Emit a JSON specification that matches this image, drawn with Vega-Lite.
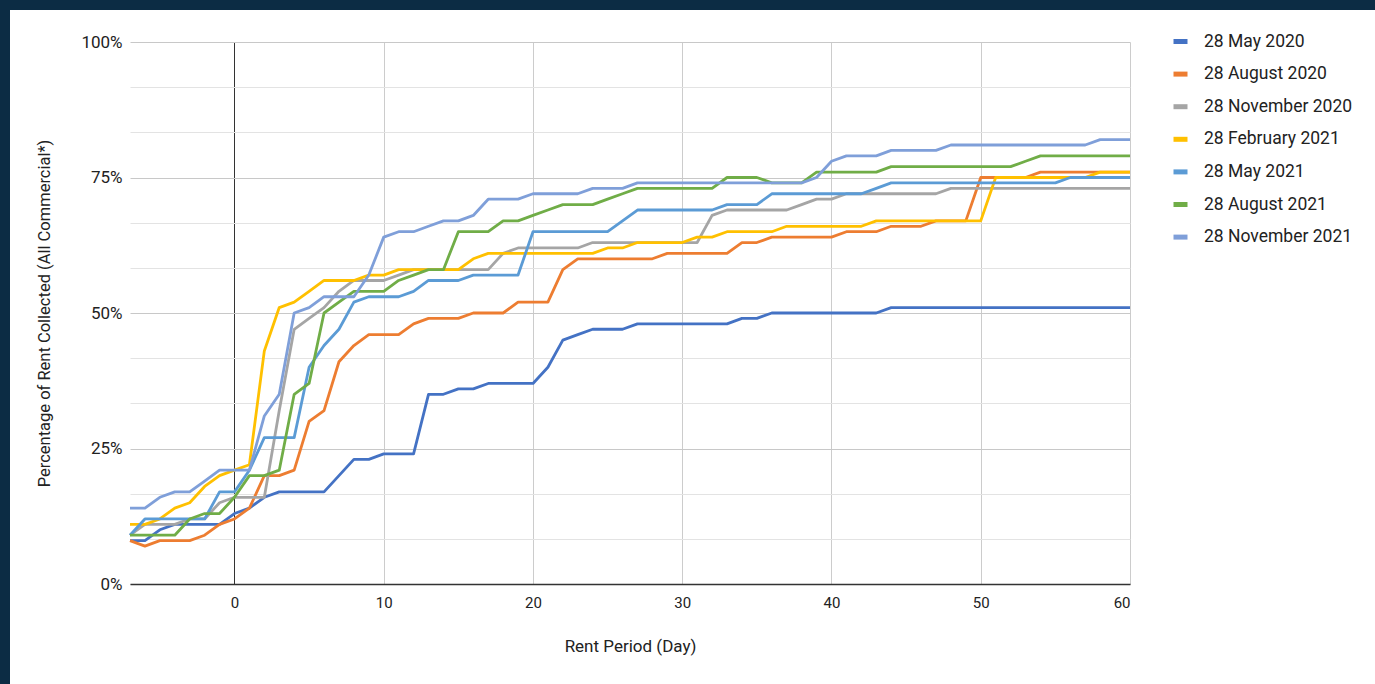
{
  "$schema": "https://vega.github.io/schema/vega-lite/v6.json",
  "background": "white",
  "padding": 0,
  "spacing": 0,
  "config": {"font": "Roboto", "view": {"stroke": null}},
  "hconcat": [
    {
      "width": 10,
      "height": 684,
      "data": {"values": []},
      "mark": "point",
      "view": {"fill": "#0c2c44", "stroke": null}
    },
    {
      "spacing": 23,
      "vconcat": [
        {
          "width": 1245,
          "height": 10,
          "data": {"values": []},
          "mark": "point",
          "view": {"fill": "#0c2c44", "stroke": null},
          "encoding": {
            "y": {
              "datum": 0,
              "type": "quantitative",
              "axis": {"orient": "left", "translate": 0, "domain": true, "domainColor": "#0c2c44", "domainWidth": 242, "domainCap": "butt", "labels": false, "ticks": false, "grid": false, "title": null}
            }
          }
        },
        {
          "width": 1000,
          "height": 542,
          "title": {"text": " ", "orient": "left", "fontSize": 10, "offset": 16.5},
          "data": {
            "values": [
              {"day": -7, "28 May 2020": 8, "28 August 2020": 8, "28 November 2020": 9, "28 February 2021": 11, "28 May 2021": 9, "28 August 2021": 9, "28 November 2021": 14},
              {"day": -6, "28 May 2020": 8, "28 August 2020": 7, "28 November 2020": 11, "28 February 2021": 11, "28 May 2021": 12, "28 August 2021": 9, "28 November 2021": 14},
              {"day": -5, "28 May 2020": 10, "28 August 2020": 8, "28 November 2020": 11, "28 February 2021": 12, "28 May 2021": 12, "28 August 2021": 9, "28 November 2021": 16},
              {"day": -4, "28 May 2020": 11, "28 August 2020": 8, "28 November 2020": 11, "28 February 2021": 14, "28 May 2021": 12, "28 August 2021": 9, "28 November 2021": 17},
              {"day": -3, "28 May 2020": 11, "28 August 2020": 8, "28 November 2020": 12, "28 February 2021": 15, "28 May 2021": 12, "28 August 2021": 12, "28 November 2021": 17},
              {"day": -2, "28 May 2020": 11, "28 August 2020": 9, "28 November 2020": 12, "28 February 2021": 18, "28 May 2021": 12, "28 August 2021": 13, "28 November 2021": 19},
              {"day": -1, "28 May 2020": 11, "28 August 2020": 11, "28 November 2020": 15, "28 February 2021": 20, "28 May 2021": 17, "28 August 2021": 13, "28 November 2021": 21},
              {"day": 0, "28 May 2020": 13, "28 August 2020": 12, "28 November 2020": 16, "28 February 2021": 21, "28 May 2021": 17, "28 August 2021": 16, "28 November 2021": 21},
              {"day": 1, "28 May 2020": 14, "28 August 2020": 14, "28 November 2020": 16, "28 February 2021": 22, "28 May 2021": 21, "28 August 2021": 20, "28 November 2021": 21},
              {"day": 2, "28 May 2020": 16, "28 August 2020": 20, "28 November 2020": 16, "28 February 2021": 43, "28 May 2021": 27, "28 August 2021": 20, "28 November 2021": 31},
              {"day": 3, "28 May 2020": 17, "28 August 2020": 20, "28 November 2020": 32, "28 February 2021": 51, "28 May 2021": 27, "28 August 2021": 21, "28 November 2021": 35},
              {"day": 4, "28 May 2020": 17, "28 August 2020": 21, "28 November 2020": 47, "28 February 2021": 52, "28 May 2021": 27, "28 August 2021": 35, "28 November 2021": 50},
              {"day": 5, "28 May 2020": 17, "28 August 2020": 30, "28 November 2020": 49, "28 February 2021": 54, "28 May 2021": 40, "28 August 2021": 37, "28 November 2021": 51},
              {"day": 6, "28 May 2020": 17, "28 August 2020": 32, "28 November 2020": 51, "28 February 2021": 56, "28 May 2021": 44, "28 August 2021": 50, "28 November 2021": 53},
              {"day": 7, "28 May 2020": 20, "28 August 2020": 41, "28 November 2020": 54, "28 February 2021": 56, "28 May 2021": 47, "28 August 2021": 52, "28 November 2021": 53},
              {"day": 8, "28 May 2020": 23, "28 August 2020": 44, "28 November 2020": 56, "28 February 2021": 56, "28 May 2021": 52, "28 August 2021": 54, "28 November 2021": 53},
              {"day": 9, "28 May 2020": 23, "28 August 2020": 46, "28 November 2020": 56, "28 February 2021": 57, "28 May 2021": 53, "28 August 2021": 54, "28 November 2021": 57},
              {"day": 10, "28 May 2020": 24, "28 August 2020": 46, "28 November 2020": 56, "28 February 2021": 57, "28 May 2021": 53, "28 August 2021": 54, "28 November 2021": 64},
              {"day": 11, "28 May 2020": 24, "28 August 2020": 46, "28 November 2020": 57, "28 February 2021": 58, "28 May 2021": 53, "28 August 2021": 56, "28 November 2021": 65},
              {"day": 12, "28 May 2020": 24, "28 August 2020": 48, "28 November 2020": 58, "28 February 2021": 58, "28 May 2021": 54, "28 August 2021": 57, "28 November 2021": 65},
              {"day": 13, "28 May 2020": 35, "28 August 2020": 49, "28 November 2020": 58, "28 February 2021": 58, "28 May 2021": 56, "28 August 2021": 58, "28 November 2021": 66},
              {"day": 14, "28 May 2020": 35, "28 August 2020": 49, "28 November 2020": 58, "28 February 2021": 58, "28 May 2021": 56, "28 August 2021": 58, "28 November 2021": 67},
              {"day": 15, "28 May 2020": 36, "28 August 2020": 49, "28 November 2020": 58, "28 February 2021": 58, "28 May 2021": 56, "28 August 2021": 65, "28 November 2021": 67},
              {"day": 16, "28 May 2020": 36, "28 August 2020": 50, "28 November 2020": 58, "28 February 2021": 60, "28 May 2021": 57, "28 August 2021": 65, "28 November 2021": 68},
              {"day": 17, "28 May 2020": 37, "28 August 2020": 50, "28 November 2020": 58, "28 February 2021": 61, "28 May 2021": 57, "28 August 2021": 65, "28 November 2021": 71},
              {"day": 18, "28 May 2020": 37, "28 August 2020": 50, "28 November 2020": 61, "28 February 2021": 61, "28 May 2021": 57, "28 August 2021": 67, "28 November 2021": 71},
              {"day": 19, "28 May 2020": 37, "28 August 2020": 52, "28 November 2020": 62, "28 February 2021": 61, "28 May 2021": 57, "28 August 2021": 67, "28 November 2021": 71},
              {"day": 20, "28 May 2020": 37, "28 August 2020": 52, "28 November 2020": 62, "28 February 2021": 61, "28 May 2021": 65, "28 August 2021": 68, "28 November 2021": 72},
              {"day": 21, "28 May 2020": 40, "28 August 2020": 52, "28 November 2020": 62, "28 February 2021": 61, "28 May 2021": 65, "28 August 2021": 69, "28 November 2021": 72},
              {"day": 22, "28 May 2020": 45, "28 August 2020": 58, "28 November 2020": 62, "28 February 2021": 61, "28 May 2021": 65, "28 August 2021": 70, "28 November 2021": 72},
              {"day": 23, "28 May 2020": 46, "28 August 2020": 60, "28 November 2020": 62, "28 February 2021": 61, "28 May 2021": 65, "28 August 2021": 70, "28 November 2021": 72},
              {"day": 24, "28 May 2020": 47, "28 August 2020": 60, "28 November 2020": 63, "28 February 2021": 61, "28 May 2021": 65, "28 August 2021": 70, "28 November 2021": 73},
              {"day": 25, "28 May 2020": 47, "28 August 2020": 60, "28 November 2020": 63, "28 February 2021": 62, "28 May 2021": 65, "28 August 2021": 71, "28 November 2021": 73},
              {"day": 26, "28 May 2020": 47, "28 August 2020": 60, "28 November 2020": 63, "28 February 2021": 62, "28 May 2021": 67, "28 August 2021": 72, "28 November 2021": 73},
              {"day": 27, "28 May 2020": 48, "28 August 2020": 60, "28 November 2020": 63, "28 February 2021": 63, "28 May 2021": 69, "28 August 2021": 73, "28 November 2021": 74},
              {"day": 28, "28 May 2020": 48, "28 August 2020": 60, "28 November 2020": 63, "28 February 2021": 63, "28 May 2021": 69, "28 August 2021": 73, "28 November 2021": 74},
              {"day": 29, "28 May 2020": 48, "28 August 2020": 61, "28 November 2020": 63, "28 February 2021": 63, "28 May 2021": 69, "28 August 2021": 73, "28 November 2021": 74},
              {"day": 30, "28 May 2020": 48, "28 August 2020": 61, "28 November 2020": 63, "28 February 2021": 63, "28 May 2021": 69, "28 August 2021": 73, "28 November 2021": 74},
              {"day": 31, "28 May 2020": 48, "28 August 2020": 61, "28 November 2020": 63, "28 February 2021": 64, "28 May 2021": 69, "28 August 2021": 73, "28 November 2021": 74},
              {"day": 32, "28 May 2020": 48, "28 August 2020": 61, "28 November 2020": 68, "28 February 2021": 64, "28 May 2021": 69, "28 August 2021": 73, "28 November 2021": 74},
              {"day": 33, "28 May 2020": 48, "28 August 2020": 61, "28 November 2020": 69, "28 February 2021": 65, "28 May 2021": 70, "28 August 2021": 75, "28 November 2021": 74},
              {"day": 34, "28 May 2020": 49, "28 August 2020": 63, "28 November 2020": 69, "28 February 2021": 65, "28 May 2021": 70, "28 August 2021": 75, "28 November 2021": 74},
              {"day": 35, "28 May 2020": 49, "28 August 2020": 63, "28 November 2020": 69, "28 February 2021": 65, "28 May 2021": 70, "28 August 2021": 75, "28 November 2021": 74},
              {"day": 36, "28 May 2020": 50, "28 August 2020": 64, "28 November 2020": 69, "28 February 2021": 65, "28 May 2021": 72, "28 August 2021": 74, "28 November 2021": 74},
              {"day": 37, "28 May 2020": 50, "28 August 2020": 64, "28 November 2020": 69, "28 February 2021": 66, "28 May 2021": 72, "28 August 2021": 74, "28 November 2021": 74},
              {"day": 38, "28 May 2020": 50, "28 August 2020": 64, "28 November 2020": 70, "28 February 2021": 66, "28 May 2021": 72, "28 August 2021": 74, "28 November 2021": 74},
              {"day": 39, "28 May 2020": 50, "28 August 2020": 64, "28 November 2020": 71, "28 February 2021": 66, "28 May 2021": 72, "28 August 2021": 76, "28 November 2021": 75},
              {"day": 40, "28 May 2020": 50, "28 August 2020": 64, "28 November 2020": 71, "28 February 2021": 66, "28 May 2021": 72, "28 August 2021": 76, "28 November 2021": 78},
              {"day": 41, "28 May 2020": 50, "28 August 2020": 65, "28 November 2020": 72, "28 February 2021": 66, "28 May 2021": 72, "28 August 2021": 76, "28 November 2021": 79},
              {"day": 42, "28 May 2020": 50, "28 August 2020": 65, "28 November 2020": 72, "28 February 2021": 66, "28 May 2021": 72, "28 August 2021": 76, "28 November 2021": 79},
              {"day": 43, "28 May 2020": 50, "28 August 2020": 65, "28 November 2020": 72, "28 February 2021": 67, "28 May 2021": 73, "28 August 2021": 76, "28 November 2021": 79},
              {"day": 44, "28 May 2020": 51, "28 August 2020": 66, "28 November 2020": 72, "28 February 2021": 67, "28 May 2021": 74, "28 August 2021": 77, "28 November 2021": 80},
              {"day": 45, "28 May 2020": 51, "28 August 2020": 66, "28 November 2020": 72, "28 February 2021": 67, "28 May 2021": 74, "28 August 2021": 77, "28 November 2021": 80},
              {"day": 46, "28 May 2020": 51, "28 August 2020": 66, "28 November 2020": 72, "28 February 2021": 67, "28 May 2021": 74, "28 August 2021": 77, "28 November 2021": 80},
              {"day": 47, "28 May 2020": 51, "28 August 2020": 67, "28 November 2020": 72, "28 February 2021": 67, "28 May 2021": 74, "28 August 2021": 77, "28 November 2021": 80},
              {"day": 48, "28 May 2020": 51, "28 August 2020": 67, "28 November 2020": 73, "28 February 2021": 67, "28 May 2021": 74, "28 August 2021": 77, "28 November 2021": 81},
              {"day": 49, "28 May 2020": 51, "28 August 2020": 67, "28 November 2020": 73, "28 February 2021": 67, "28 May 2021": 74, "28 August 2021": 77, "28 November 2021": 81},
              {"day": 50, "28 May 2020": 51, "28 August 2020": 75, "28 November 2020": 73, "28 February 2021": 67, "28 May 2021": 74, "28 August 2021": 77, "28 November 2021": 81},
              {"day": 51, "28 May 2020": 51, "28 August 2020": 75, "28 November 2020": 73, "28 February 2021": 75, "28 May 2021": 74, "28 August 2021": 77, "28 November 2021": 81},
              {"day": 52, "28 May 2020": 51, "28 August 2020": 75, "28 November 2020": 73, "28 February 2021": 75, "28 May 2021": 74, "28 August 2021": 77, "28 November 2021": 81},
              {"day": 53, "28 May 2020": 51, "28 August 2020": 75, "28 November 2020": 73, "28 February 2021": 75, "28 May 2021": 74, "28 August 2021": 78, "28 November 2021": 81},
              {"day": 54, "28 May 2020": 51, "28 August 2020": 76, "28 November 2020": 73, "28 February 2021": 75, "28 May 2021": 74, "28 August 2021": 79, "28 November 2021": 81},
              {"day": 55, "28 May 2020": 51, "28 August 2020": 76, "28 November 2020": 73, "28 February 2021": 75, "28 May 2021": 74, "28 August 2021": 79, "28 November 2021": 81},
              {"day": 56, "28 May 2020": 51, "28 August 2020": 76, "28 November 2020": 73, "28 February 2021": 75, "28 May 2021": 75, "28 August 2021": 79, "28 November 2021": 81},
              {"day": 57, "28 May 2020": 51, "28 August 2020": 76, "28 November 2020": 73, "28 February 2021": 75, "28 May 2021": 75, "28 August 2021": 79, "28 November 2021": 81},
              {"day": 58, "28 May 2020": 51, "28 August 2020": 76, "28 November 2020": 73, "28 February 2021": 76, "28 May 2021": 75, "28 August 2021": 79, "28 November 2021": 82},
              {"day": 59, "28 May 2020": 51, "28 August 2020": 76, "28 November 2020": 73, "28 February 2021": 76, "28 May 2021": 75, "28 August 2021": 79, "28 November 2021": 82},
              {"day": 60, "28 May 2020": 51, "28 August 2020": 76, "28 November 2020": 73, "28 February 2021": 76, "28 May 2021": 75, "28 August 2021": 79, "28 November 2021": 82}
            ]
          },
          "transform": [
            {"fold": ["28 May 2020", "28 August 2020", "28 November 2020", "28 February 2021", "28 May 2021", "28 August 2021", "28 November 2021"], "as": ["series", "value"]}
          ],
          "mark": {"type": "line", "strokeWidth": 2.8, "strokeJoin": "round"},
          "encoding": {
            "x": {
              "field": "day",
              "type": "quantitative",
              "scale": {"domain": [-7, 60], "nice": false, "zero": false},
              "axis": {
                "values": [0, 10, 20, 30, 40, 50, 60],
                "title": "Rent Period (Day)",
                "titleFont": "Roboto",
                "titleFontSize": 17,
                "titleFontWeight": "normal",
                "titleColor": "#222222",
                "titlePadding": 28,
                "labelFont": "Roboto",
                "labelFontSize": 15,
                "labelColor": "#222222",
                "labelPadding": 11,
                "ticks": false,
                "domain": true,
                "domainColor": "#333333",
                "domainWidth": 1.5,
                "grid": true,
                "gridColor": {"condition": {"test": "datum.value === 0", "value": "#333333"}, "value": "#cccccc"},
                "gridWidth": 1
              }
            },
            "y": {
              "field": "value",
              "type": "quantitative",
              "scale": {"domain": [0, 100], "nice": false},
              "axis": {
                "values": [0, 8.33333, 16.66667, 25, 33.33333, 41.66667, 50, 58.33333, 66.66667, 75, 83.33333, 91.66667, 100],
                "labelExpr": "datum.value % 25 === 0 ? datum.value + '%' : ''",
                "title": "Percentage of Rent Collected (All Commercial*)",
                "titleFont": "Roboto",
                "titleFontSize": 16.5,
                "titleFontWeight": "normal",
                "titleColor": "#222222",
                "titlePadding": 28,
                "labelFont": "Roboto",
                "labelFontSize": 17,
                "labelColor": "#222222",
                "labelPadding": 8,
                "ticks": false,
                "domain": false,
                "grid": true,
                "gridColor": {"condition": {"test": "datum.value % 25 === 0", "value": "#c8c8c8"}, "value": "#e3e3e3"},
                "gridWidth": 1
              }
            },
            "color": {
              "field": "series",
              "type": "nominal",
              "sort": ["28 May 2020", "28 August 2020", "28 November 2020", "28 February 2021", "28 May 2021", "28 August 2021", "28 November 2021"],
              "scale": {
                "domain": ["28 May 2020", "28 August 2020", "28 November 2020", "28 February 2021", "28 May 2021", "28 August 2021", "28 November 2021"],
                "range": ["#4472c4", "#ed7d31", "#a5a5a5", "#ffc000", "#5b9bd5", "#70ad47", "#7f9fd9"]
              },
              "legend": {
                "title": null,
                "orient": "none",
                "legendX": 1171,
                "legendY": 32,
                "symbolType": "stroke",
                "symbolSize": 196,
                "symbolStrokeWidth": 5,
                "labelFont": "Roboto",
                "labelFontSize": 17.5,
                "labelColor": "#222222",
                "labelOffset": 14,
                "rowPadding": 11.6,
                "padding": 0,
                "labelLimit": 300
              }
            }
          }
        }
      ]
    }
  ]
}
